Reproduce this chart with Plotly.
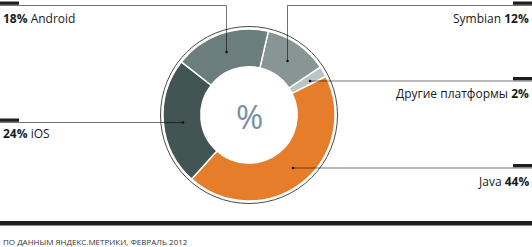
import plotly.graph_objects as go

W, H = 532, 247

# Data
platforms = ["Symbian", "Другие платформы", "Java", "iOS", "Android"]
shares = [12, 2, 44, 24, 18]
colors = ["#879694", "#b9c5c1", "#e67d2a", "#435552", "#6b7d7c"]
center_label = "%"
source = "ПО ДАННЫМ ЯНДЕКС.МЕТРИКИ, ФЕВРАЛЬ 2012"

def px(x):
    return x / W

def py(y):
    return 1 - y / H

cx, cy, r = 249, 115, 86

fig = go.Figure(go.Pie(
    labels=platforms,
    values=shares,
    sort=False,
    direction="clockwise",
    rotation=13,
    hole=0.56,
    marker=dict(colors=colors, line=dict(color="white", width=1.5)),
    textinfo="none",
    hoverinfo="label+percent",
    domain=dict(x=[px(cx - r), px(cx + r)], y=[py(cy + r), py(cy - r)]),
    showlegend=False,
))

shapes = []
# outer ring
shapes.append(dict(type="circle", xref="paper", yref="paper",
                   x0=px(cx - 88.5), x1=px(cx + 88.5), y0=py(cy + 88.5), y1=py(cy - 88.5),
                   line=dict(color="#4a4a4a", width=1)))

LC = "rgba(0,0,0,0.55)"

def seg(x0, y0, x1, y1, color=LC, width=1):
    shapes.append(dict(type="line", xref="paper", yref="paper",
                       x0=px(x0), y0=py(y0), x1=px(x1), y1=py(y1),
                       line=dict(color=color, width=width)))

def bar(x0, x1, y0, y1):
    shapes.append(dict(type="rect", xref="paper", yref="paper",
                       x0=px(x0), x1=px(x1), y0=py(y1), y1=py(y0),
                       fillcolor="#1e1e1e", line=dict(width=0)))

def dot(x, y):
    shapes.append(dict(type="circle", xref="paper", yref="paper",
                       x0=px(x - 1.3), x1=px(x + 1.3), y0=py(y + 1.3), y1=py(y - 1.3),
                       fillcolor="#111", line=dict(width=0)))

# Android
seg(0, 5.5, 226.5, 5.5); seg(226.5, 5.5, 226.5, 52); dot(226.5, 52); bar(0, 19, 1.5, 4.8)
# Symbian
seg(287.5, 5.5, 532, 5.5); seg(287.5, 5.5, 287.5, 61); dot(287.5, 61); bar(513, 532, 1.5, 4.8)
# Others
seg(310, 81, 532, 81); dot(310, 81); bar(513, 532, 77, 80.3)
# Java
seg(293, 168, 532, 168); dot(293, 168); bar(513, 532, 164, 167.3)
# iOS
seg(0, 122.5, 183, 122.5); dot(183, 122.5); bar(0, 19, 118.5, 121.8)
# bottom rule
bar(0, 532, 221, 225.5)

FONT = "Open Sans"
TC = "#1a1a1a"
ann = []

def label(x, y, text, anchor):
    ann.append(dict(x=px(x), y=py(y), xref="paper", yref="paper", text=text,
                    showarrow=False, xanchor=anchor, yanchor="middle",
                    font=dict(family=FONT, size=12, color=TC)))

def fmt_left(i):
    return f"<b>{shares[i]}%</b> {platforms[i]}"

def fmt_right(i):
    return f"{platforms[i]} <b>{shares[i]}%</b>"

label(1, 18, fmt_left(4), "left")
label(531, 18, fmt_right(0), "right")
label(531, 93, fmt_right(1), "right")
label(531, 181, fmt_right(2), "right")
label(1, 133, fmt_left(3), "left")

ann.append(dict(x=px(cx), y=py(116), xref="paper", yref="paper", text=center_label,
                showarrow=False, xanchor="center", yanchor="middle",
                font=dict(family=FONT, size=33, color="#7a90a2")))
ann.append(dict(x=px(1), y=py(241), xref="paper", yref="paper", text=source,
                showarrow=False, xanchor="left", yanchor="middle",
                font=dict(family=FONT, size=8, color="#333")))

fig.update_layout(width=W, height=H, margin=dict(l=0, r=0, t=0, b=0),
                  paper_bgcolor="white", plot_bgcolor="white",
                  shapes=shapes, annotations=ann)

fig.write_html("out.html")
